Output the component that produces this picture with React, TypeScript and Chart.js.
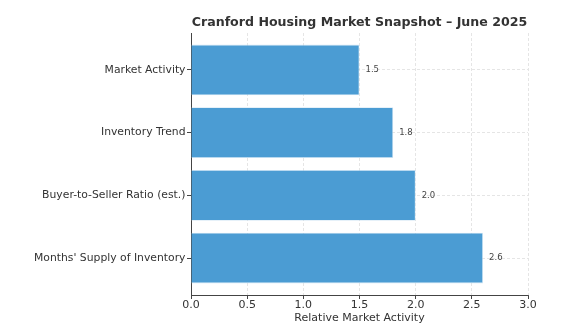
import React, { useEffect, useRef } from "react";
import { Chart, registerables } from "chart.js";

Chart.register(...registerables);

const chartTitle = "Cranford Housing Market Snapshot – June 2025";
const categories = [
  "Market Activity",
  "Inventory Trend",
  "Buyer-to-Seller Ratio (est.)",
  "Months' Supply of Inventory",
];
const values = [1.5, 1.8, 2.0, 2.6];
const xAxisTitle = "Relative Market Activity";
const xMin = 0;
const xMax = 3;
const xStep = 0.5;

const FONT = "'DejaVu Sans', sans-serif";

export default function App() {
  const ref = useRef<HTMLCanvasElement | null>(null);

  useEffect(() => {
    if (!ref.current) return;
    const titlePlugin = {
      id: "customTitle",
      afterDraw(chart: any) {
        const { ctx, chartArea } = chart;
        ctx.save();
        ctx.font = `bold 12.6px ${FONT}`;
        ctx.fillStyle = "#333333";
        ctx.textAlign = "center";
        ctx.textBaseline = "middle";
        ctx.fillText(chartTitle, (chartArea.left + chartArea.right) / 2, 22.5);
        ctx.restore();
      },
    };
    const valueLabels = {
      id: "valueLabels",
      afterDraw(chart: any) {
        const { ctx } = chart;
        const meta = chart.getDatasetMeta(0);
        ctx.save();
        ctx.font = `8.5px ${FONT}`;
        ctx.fillStyle = "#444444";
        ctx.textAlign = "left";
        ctx.textBaseline = "middle";
        meta.data.forEach((el: any, i: number) => {
          ctx.fillText(values[i].toFixed(1), el.x + 6, el.y);
        });
        ctx.restore();
      },
    };
    const chart = new Chart(ref.current, {
      type: "bar",
      data: {
        datasets: [
          {
            data: values.map((v, i) => ({ x: v, y: i })),
            backgroundColor: "rgb(75,156,211)",
            borderColor: "rgba(200,225,242,0.8)",
            borderWidth: 0.8,
            barPercentage: 1,
            categoryPercentage: 0.81,
          },
        ],
      },
      options: {
        indexAxis: "y",
        responsive: false,
        animation: false,
        layout: { padding: { left: 0, top: 33, right: 51, bottom: 0 } },
        plugins: {
          legend: { display: false },
          tooltip: { enabled: false },
        },
        scales: {
          x: {
            type: "linear",
            min: xMin,
            max: xMax,
            z: 1,
            ticks: {
              stepSize: xStep,
              color: "#333333",
              font: { family: FONT, size: 11 },
              padding: 0,
              callback: (v: any) => Number(v).toFixed(1),
            },
            grid: {
              color: "rgba(190,190,190,0.5)",
              lineWidth: 0.8,
              tickLength: 4,
              tickColor: "#444444",
              tickWidth: 1,
            },
            border: { display: true, color: "#444444", width: 1, dash: [3, 2] },
            title: {
              display: true,
              text: xAxisTitle,
              color: "#333333",
              font: { family: FONT, size: 11 },
              padding: { top: 0, bottom: 8.5 },
            },
            afterFit(scale: any) {
              scale.height = 38;
            },
          },
          y: {
            type: "linear",
            min: -0.59,
            max: 3.59,
            reverse: true,
            offset: false,
            z: 1,
            afterBuildTicks(scale: any) {
              scale.ticks = categories.map((_, i) => ({ value: i }));
            },
            ticks: {
              color: "#333333",
              font: { family: FONT, size: 10.8 },
              padding: 1.5,
              callback: (v: any) => categories[Math.round(Number(v))] ?? "",
            },
            grid: {
              offset: false,
              color: "rgba(190,190,190,0.5)",
              lineWidth: 0.8,
              tickLength: 4,
              tickColor: "#444444",
              tickWidth: 1,
            },
            border: { display: true, color: "#444444", width: 1, dash: [3, 2] },
            afterFit(scale: any) {
              scale.width = 191;
            },
          },
        },
      },
      plugins: [titlePlugin, valueLabels],
    } as any);
    return () => chart.destroy();
  }, []);

  return (
    <div style={{ position: "fixed", left: 0, top: 0, width: 579, height: 333, background: "#fff" }}>
      <canvas ref={ref} width={579} height={333} style={{ display: "block" }} />
    </div>
  );
}
